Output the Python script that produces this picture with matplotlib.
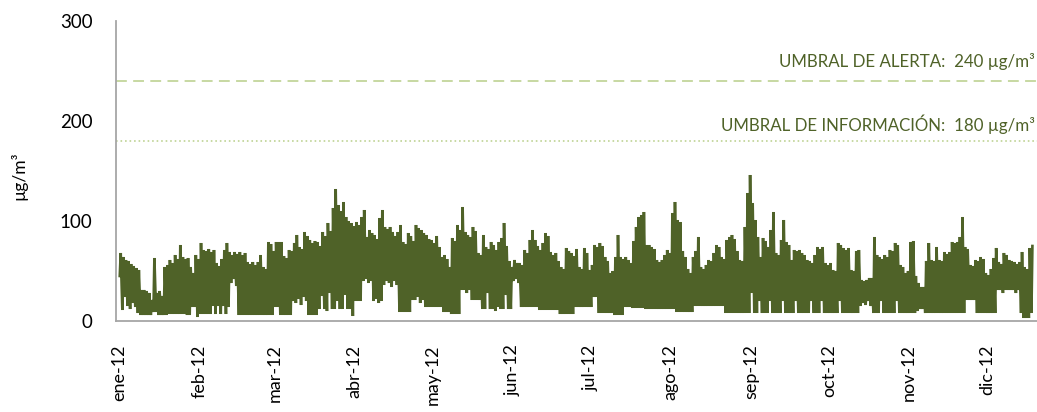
import numpy as np
import pandas as pd
import matplotlib
matplotlib.use("Agg")
import matplotlib.pyplot as plt
import matplotlib.dates as mdates
import matplotlib.transforms as mtransforms

# ---------------- data (daily max / min of hourly O3, µg/m³) ----------------
month_labels = ["ene-12", "feb-12", "mar-12", "abr-12", "may-12", "jun-12",
                "jul-12", "ago-12", "sep-12", "oct-12", "nov-12", "dic-12"]

max_ene = [68, 64, 61, 60, 57, 55, 53, 51, 31, 31, 30, 28, 21, 63, 28, 30, 25, 54, 56, 61, 58, 66, 62, 76, 64, 62, 63, 54, 48, 66, 62]
max_feb = [78, 71, 70, 72, 69, 71, 58, 55, 62, 71, 78, 69, 66, 69, 67, 69, 66, 68, 59, 57, 59, 56, 59, 66, 54, 52, 79, 77, 70]
max_mar = [79, 79, 79, 65, 63, 71, 70, 78, 86, 74, 72, 89, 85, 81, 78, 80, 79, 75, 89, 85, 98, 90, 113, 132, 116, 110, 119, 104, 100, 98, 95]
max_abr = [99, 96, 104, 111, 84, 91, 88, 86, 82, 103, 111, 94, 92, 94, 89, 85, 89, 96, 79, 77, 88, 85, 80, 96, 93, 91, 88, 86, 82, 81]
max_may = [78, 85, 74, 64, 66, 62, 54, 83, 80, 96, 91, 114, 89, 86, 84, 94, 90, 68, 66, 86, 74, 72, 79, 76, 71, 79, 83, 98, 75, 60, 54]
max_jun = [61, 58, 58, 56, 71, 68, 81, 91, 81, 75, 71, 78, 88, 85, 69, 66, 68, 60, 54, 52, 73, 70, 68, 65, 72, 54, 52, 73, 68, 51]
max_jul = [56, 76, 74, 78, 75, 64, 60, 48, 50, 64, 86, 64, 62, 64, 61, 58, 80, 94, 104, 106, 109, 76, 76, 74, 72, 61, 59, 61, 66, 71, 68]
max_ago = [108, 119, 101, 99, 70, 64, 52, 48, 64, 70, 84, 54, 52, 56, 61, 60, 68, 76, 74, 64, 62, 81, 84, 86, 82, 70, 61, 60, 94, 128, 146]
max_sep = [118, 101, 84, 64, 83, 80, 74, 91, 109, 68, 66, 81, 101, 79, 76, 61, 71, 70, 71, 68, 66, 61, 60, 58, 66, 74, 72, 74, 58, 56]
max_oct = [58, 51, 50, 78, 76, 73, 71, 73, 51, 50, 70, 71, 41, 40, 41, 43, 43, 84, 66, 64, 62, 66, 64, 71, 70, 78, 76, 56, 54, 48, 50]
max_nov = [79, 80, 45, 38, 34, 34, 60, 78, 61, 60, 74, 61, 60, 69, 67, 69, 79, 78, 79, 84, 104, 74, 72, 56, 55, 61, 60, 64, 62, 48]
max_dic = [46, 52, 63, 73, 59, 57, 68, 66, 61, 60, 59, 57, 59, 69, 54, 52, 73, 75]

min_ene = [45, 11, 24, 15, 12, 18, 14, 8, 6, 6, 6, 6, 6, 9, 9, 6, 6, 6, 6, 7, 7, 7, 7, 7, 7, 7, 6, 6, 14, 14, 4]
min_feb = [7, 7, 7, 7, 7, 15, 7, 15, 7, 15, 7, 14, 38, 42, 35, 6, 6, 6, 6, 6, 6, 6, 6, 6, 6, 6, 6, 6, 6]
min_mar = [14, 14, 6, 6, 6, 6, 6, 20, 18, 22, 16, 24, 20, 6, 6, 6, 6, 12, 25, 12, 10, 28, 12, 12, 20, 12, 12, 26, 12, 12, 5]
min_abr = [20, 20, 20, 40, 42, 38, 40, 20, 22, 18, 20, 36, 40, 38, 34, 40, 36, 9, 9, 9, 9, 9, 21, 21, 24, 18, 21, 14, 14, 14]
min_may = [14, 14, 14, 14, 9, 9, 9, 7, 7, 7, 7, 31, 31, 28, 31, 21, 21, 21, 21, 12, 12, 28, 12, 12, 10, 14, 12, 12, 26, 12, 12]
min_jun = [40, 42, 38, 14, 14, 14, 14, 14, 14, 14, 11, 11, 11, 11, 11, 11, 11, 11, 7, 7, 7, 7, 7, 7, 14, 14, 14, 14, 14, 14]
min_jul = [14, 24, 24, 8, 8, 8, 8, 8, 8, 6, 6, 6, 6, 14, 14, 14, 13, 13, 13, 13, 13, 12, 12, 12, 12, 12, 12, 12, 12, 12, 12]
min_ago = [12, 12, 9, 9, 9, 9, 9, 9, 9, 15, 15, 15, 15, 15, 15, 15, 15, 15, 15, 15, 15, 8, 8, 8, 8, 8, 8, 8, 8, 8, 8]
min_sep = [28, 8, 8, 20, 8, 8, 8, 20, 8, 8, 8, 8, 20, 8, 8, 8, 8, 20, 8, 8, 8, 8, 8, 20, 8, 8, 8, 20, 8, 8]
min_oct = [8, 8, 8, 8, 20, 8, 8, 8, 8, 8, 8, 8, 15, 18, 16, 20, 15, 8, 8, 8, 20, 8, 8, 8, 8, 8, 20, 8, 8, 8, 8]
min_nov = [8, 8, 8, 10, 12, 12, 8, 8, 8, 8, 8, 8, 8, 8, 8, 8, 8, 8, 8, 8, 8, 8, 21, 21, 21, 21, 8, 8, 8, 8]
min_dic = [8, 8, 8, 8, 31, 31, 28, 31, 31, 31, 31, 28, 31, 8, 3, 3, 3, 8]

umbral_alerta = 240
umbral_informacion = 180
texto_alerta = "UMBRAL DE ALERTA:  240 µg/m³"
texto_info = "UMBRAL DE INFORMACIÓN:  180 µg/m³"
y_ticks = [0, 100, 200, 300]

# ---------------- build series ----------------
daily_max = np.concatenate([max_ene, max_feb, max_mar, max_abr, max_may, max_jun,
                            max_jul, max_ago, max_sep, max_oct, max_nov, max_dic]).astype(float)
daily_min = np.concatenate([min_ene, min_feb, min_mar, min_abr, min_may, min_jun,
                            min_jul, min_ago, min_sep, min_oct, min_nov, min_dic]).astype(float)
n = min(len(daily_max), len(daily_min))
daily_max, daily_min = daily_max[:n], daily_min[:n]
days = pd.date_range("2012-01-01", periods=n, freq="D")
base = mdates.date2num(days)

t = np.empty(2 * n)
v = np.empty(2 * n)
t[0::2] = base + 0.25
v[0::2] = daily_min
t[1::2] = base + 0.625
v[1::2] = daily_max

# ---------------- figure ----------------
plt.rcParams['font.family'] = ['Lato', 'DejaVu Sans']
olive = '#4F6228'
light = '#C3D69B'

fig = plt.figure(figsize=(10.37, 4.12), dpi=100)
ax = fig.add_axes([116 / 1037, 1 - 321 / 412, 1 - 116 / 1037, 300 / 412])

ax.plot(t, v, color=olive, lw=1.9, solid_joinstyle='miter')

ax.axhline(umbral_alerta, color=light, lw=1.3, dashes=(6, 3.5))
ax.axhline(umbral_informacion, color=light, lw=1.3, dashes=(0.9, 1.6))

trans = mtransforms.blended_transform_factory(ax.transAxes, ax.transData)
ax.text(0.998, 260, texto_alerta, transform=trans, ha='right', va='center',
        color=olive, fontsize=12.2)
ax.text(0.998, 197, texto_info, transform=trans, ha='right', va='center',
        color=olive, fontsize=12.2)

start = mdates.date2num(pd.Timestamp("2012-01-01"))
ax.set_xlim(start - 1.2, start + 354.4)
ax.set_ylim(0, 300)

month_starts = mdates.date2num(pd.date_range("2012-01-01", periods=12, freq="MS"))
ax.set_xticks(month_starts)
ax.set_xticklabels(month_labels, rotation=90, fontsize=13)
ax.set_yticks(y_ticks)
ax.set_yticklabels([str(y) for y in y_ticks], fontsize=13.5)
ax.tick_params(axis='x', length=0, pad=17)
ax.tick_params(axis='y', length=0, pad=17)

for s in ['top', 'right']:
    ax.spines[s].set_visible(False)
for s in ['left', 'bottom']:
    ax.spines[s].set_color('#A6A6A6')
    ax.spines[s].set_linewidth(1.3)

fig.text(19 / 1037, 1 - 176 / 412, "µg/m³", rotation=90, ha='center', va='center',
         fontsize=12.5, color='black')

fig.savefig("out.png", dpi=100)
